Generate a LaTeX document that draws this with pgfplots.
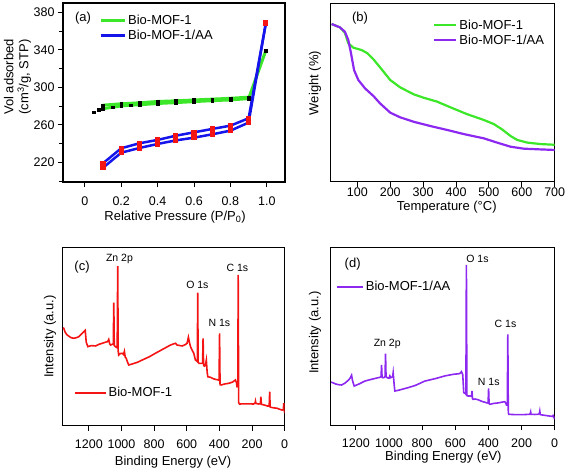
\documentclass[border=0pt]{standalone}
\usepackage{pgfplots}
\pgfplotsset{compat=1.18}
\usepackage{fontspec}
\setmainfont{Liberation Sans}
\setsansfont{Liberation Sans}
\definecolor{cgreen}{RGB}{60,230,40}
\definecolor{cblue}{RGB}{20,20,235}
\definecolor{cred}{RGB}{245,20,20}
\definecolor{cpurple}{RGB}{140,40,240}
\pgfplotsset{
  panel/.style={
    scale only axis, anchor=south west,
    axis line style={line width=1.5pt},
    every tick/.style={black, line width=1pt},
    tick align=outside, xtick pos=bottom, ytick pos=left,
    major tick length=5pt, minor tick length=4pt,
    /pgf/number format/assume math mode=true,
    /pgf/number format/1000 sep={},
    ticklabel style={font=\fontsize{12.5}{15}\selectfont},
    label style={font=\fontsize{13}{15}\selectfont},
    legend style={draw=none, fill=none, font=\fontsize{13}{15}\selectfont, inner sep=0pt, row sep=0pt},
    legend cell align=left,
  },
}
\tikzset{
  peak/.style={font=\fontsize{10.5}{12}\selectfont, inner sep=0pt},
  plab/.style={font=\fontsize{13}{15}\selectfont, inner sep=0pt},
}
\begin{document}
\begin{tikzpicture}
\useasboundingbox (0pt,0pt) rectangle (567pt,472pt);

% ---------------- (a) ----------------
\begin{axis}[panel, at={(63pt,290pt)}, width=222pt, height=179pt,
  xmin=-0.12, xmax=1.1, ymin=199, ymax=390,
  xtick={0,0.2,0.4,0.6,0.8,1.0}, xticklabels={0,0.2,0.4,0.6,0.8,1.0},
  ytick={220,260,300,340,380}, minor ytick={200,240,280,320,360},
  xticklabel style={yshift=-6pt},
  xlabel={Relative Pressure (P/P\textsubscript{0})},
  ylabel={Vol adsorbed\\(cm\textsuperscript{3}/g, STP)},
  ylabel style={align=center, at={(axis description cs:-0.205,0.587)}, anchor=center},
  xlabel style={at={(axis description cs:0.505,-0.196)}, anchor=center},
  legend style={at={(0.162,0.945)}, anchor=north west},
  legend image code/.code={\draw[#1] (0pt,0pt) -- (24pt,0pt);},
]
\addlegendimage{cgreen, line width=3pt}\addlegendentry{Bio-MOF-1}
\addlegendimage{cblue, line width=3pt}\addlegendentry{Bio-MOF-1/AA}
% green adsorption / desorption
\addplot[cgreen, line width=3pt, forget plot] coordinates {
 (0.1,277.3) (0.154,278.8) (0.2,280.2) (0.25,281) (0.3,281.4) (0.4,282.8) (0.5,283.7) (0.6,284.8) (0.7,285.8) (0.8,286.6) (0.9,288) (0.995,339.4)};
\addplot[cgreen, line width=3pt, forget plot] coordinates {
 (0.1,281) (0.2,282.4) (0.3,283.5) (0.4,284.9) (0.5,285.6) (0.6,286.5) (0.7,287.4) (0.8,288.3) (0.9,289.5)};
\addplot[only marks, mark=square*, mark size=1.4pt, black, forget plot] coordinates {
 (0.05,273.5) (0.077,276) (0.1,277.3) (0.154,278.8) (0.2,280.2) (0.25,281) (0.3,281.4) (0.4,282.8) (0.5,283.7) (0.6,284.8) (0.7,285.8) (0.8,286.6) (0.9,288) (0.995,339.4)
 (0.1,281) (0.2,282.4) (0.3,283.5) (0.4,284.9) (0.5,285.6) (0.6,286.5) (0.7,287.4) (0.8,288.3) (0.9,289.5)};
% blue
\addplot[cblue, line width=2.5pt, mark=square*, mark size=1.3pt, mark options={cred, fill=cred}, forget plot] coordinates {
 (0.1,214.2) (0.2,230.3) (0.3,235.3) (0.4,239.6) (0.5,243.4) (0.6,246.3) (0.7,249.9) (0.8,253.8) (0.9,262.4) (0.995,368.7)};
\addplot[cblue, line width=2.5pt, mark=square*, mark size=1.3pt, mark options={cred, fill=cred}, forget plot] coordinates {
 (0.1,219) (0.2,235) (0.3,240.3) (0.4,243.9) (0.5,248.4) (0.6,252) (0.7,255.6) (0.8,259.1) (0.9,267) (0.995,368.7)};
\node[plab] at (rel axis cs:0.09,0.916) {(a)};
\end{axis}

% ---------------- (b) ----------------
\begin{axis}[panel, at={(330.7pt,290.3pt)}, width=224pt, height=178.4pt,
  xmin=19, xmax=700, ymin=0, ymax=100,
  xtick={100,200,...,700}, ytick=\empty,
  xticklabel style={yshift=2pt},
  xlabel={Temperature (°C)}, ylabel={Weight (\%)},
  ylabel style={at={(axis description cs:-0.07,0.553)}, anchor=center},
  xlabel style={at={(axis description cs:0.518,-0.145)}, anchor=center},
  legend style={at={(0.457,0.92)}, anchor=north west},
  legend image code/.code={\draw[#1] (0pt,0pt) -- (22pt,0pt);},
]
\addplot[cgreen, line width=2.2pt] coordinates {
 (21.7,88.4) (47,86.5) (62,83.5) (72.5,77.6) (88,75.1) (113,73.8) (130.5,72) (149,68.6) (169,64.1) (200,57) (230,52.9) (271,49) (301,47.1) (342,44.9) (383,41.7) (433,37.9) (484.5,34.6) (515,32.3) (540,29.3) (566,25.6) (586,23.4) (617,21.9) (657,21.1) (700,20.7)};
\addlegendentry{Bio-MOF-1}
\addplot[cpurple, line width=2.2pt] coordinates {
 (21.7,88.4) (47,86.5) (62,84.1) (72.5,79.4) (80.7,72) (90,62.6) (103,57) (123.4,52.3) (149,48) (169,43.9) (200,38.7) (230,36.1) (271,33.6) (322,31.2) (373,29) (423.5,26.7) (484.5,24.3) (525,21.9) (566,19.6) (606.6,18.5) (657,18.1) (700,17.8)};
\addlegendentry{Bio-MOF-1/AA}
\node[plab] at (rel axis cs:0.131,0.918) {(b)};
\end{axis}

% ---------------- (c) ----------------
\begin{axis}[panel, at={(62.7pt,46.3pt)}, width=222pt, height=178pt,
  x dir=reverse, xmin=0, xmax=1360, ymin=0, ymax=100,
  xtick={0,200,...,1200}, ytick=\empty,
  xticklabel style={yshift=-6pt},
  xlabel={Binding Energy (eV)}, ylabel={Intensity (a.u.)},
  ylabel style={at={(axis description cs:-0.057,0.5)}, anchor=center},
  xlabel style={at={(axis description cs:0.497,-0.205)}, anchor=center},
  legend style={at={(0.05,0.184)}, anchor=west},
  legend image code/.code={\draw[#1] (0pt,0pt) -- (31pt,0pt);},
]
\addplot[cred, line width=1.6pt] coordinates {
(1358,55) (1353,54.7) (1345,52.5) (1333,51) (1310,49.5) (1292,49.1) (1275,49.5) (1261,50) (1245,51.5) (1231,52.8) (1222,53.6) (1216,47) (1206,44.4) (1185,45) (1159,44.8) (1135,45.8) (1108,46.6) (1095,47) (1085,47.2) (1078,48.5) (1072,46) (1067,45.3) (1055,45.8) (1050,46) (1047,69.1) (1044,45) (1037,44.4) (1030,44) (1026,45) (1023,89.7) (1020,42) (1017,39.7) (1008,40.5) (996,40.7) (988,40) (982,41.8) (977,38.5) (971,37.9) (962,35.5) (955,34.1) (930,34.8) (900,35.7) (873,36.9) (830,38.7) (792,40.7) (750,42.8) (700,45.3) (680,46) (669,46.3) (659,45.3) (640,45) (628,44.8) (610,45.5) (598,46.3) (590,49.7) (584,47) (577,44.4) (565,42) (557,40.7) (547,36.9) (540,36.5) (535,36) (533,74.7) (530,35.5) (524,35) (512,35) (503,35) (500,49.1) (497,34) (492,33.5) (486,34) (480,36.9) (475,30) (471,27.5) (460,27.3) (455,27.2) (440,26.5) (424,26) (410,25.8) (402,25.5) (399,51.9) (396,23) (389,22.9) (365,23.5) (343,23.8) (320,24.5) (302,25.7) (295,24) (292,21.9) (287,22) (285,84.7) (282,13) (277,12.2) (240,12.3) (190,12.2) (181,12.8) (179,13.8) (176,12.5) (160,12.2) (149,12.3) (146,16.3) (143,12) (120,11.5) (108,11.1) (95,11) (92,19.1) (89,10.5) (83,10.3) (65,10) (47,9.8) (30,9.2) (16,8.8) (8,9) (6,12.6) (3,9) (0,7)};
\addlegendentry{Bio-MOF-1}
\node[plab] at (rel axis cs:0.087,0.892) {(c)};
\node[peak] at (axis cs:1012,93.7) {Zn 2p};
\node[peak] at (axis cs:535,79) {O 1s};
\node[peak] at (axis cs:400,57.7) {N 1s};
\node[peak] at (axis cs:290,88.6) {C 1s};
\end{axis}

% ---------------- (d) ----------------
\begin{axis}[panel, at={(330.7pt,46.7pt)}, width=224pt, height=177.6pt,
  x dir=reverse, xmin=0, xmax=1352, ymin=0, ymax=100,
  xtick={0,200,...,1200}, ytick=\empty,
  xticklabel style={yshift=-5pt},
  xlabel={Binding Energy (eV)}, ylabel={Intensity (a.u.)},
  ylabel style={at={(axis description cs:-0.07,0.521)}, anchor=center},
  xlabel style={at={(axis description cs:0.503,-0.178)}, anchor=center},
  legend style={at={(0.024,0.78)}, anchor=west},
  legend image code/.code={\draw[#1] (0pt,0pt) -- (26pt,0pt);},
]
\addplot[cpurple, line width=1.6pt] coordinates {
(1350,24.3) (1340,24) (1320,23.2) (1300,22.8) (1286,22.7) (1265,23.8) (1247,25.3) (1235,26.5) (1226,28.2) (1220,25) (1210,22.1) (1180,23.3) (1146,24.9) (1110,25.8) (1066,26.8) (1055,27) (1048,27.5) (1045,34) (1042,27) (1036,26.8) (1028,27) (1024,27.5) (1021,40.3) (1018,27.5) (1011,26.8) (1000,26.5) (995,27.8) (990,26.8) (985,27) (978,27.5) (975,29.6) (970,24) (965,19.3) (940,19.8) (885,21.2) (840,22.5) (784,24.9) (720,26.3) (663,27.8) (613,28.7) (573,29.1) (563,30.2) (555,28.5) (549,18.4) (540,18) (536,17.5) (533,90.3) (530,17) (523,16.5) (510,16.5) (502,16.3) (499,19.3) (496,15) (493,14.6) (480,14.8) (463,14.4) (440,13.5) (412,12.7) (402,12.5) (399,20.8) (396,12.2) (392,11.8) (370,12.3) (342,12.6) (320,13) (302,13.3) (295,12.5) (291,11.4) (286,11.5) (283,51.2) (280,7) (277,6.2) (240,6) (190,6) (151,6.2) (147,6.8) (145,7.5) (143,6.2) (120,6.1) (101,6.2) (93,6.5) (90,8) (87,6) (60,5.6) (30,5.2) (14,5) (10,5.5) (5,4.5) (0,3.4)};
\addlegendentry{Bio-MOF-1/AA}
\node[plab] at (rel axis cs:0.098,0.907) {(d)};
\node[peak] at (axis cs:1011,45.6) {Zn 2p};
\node[peak] at (axis cs:466,93.8) {O 1s};
\node[peak] at (axis cs:398,24.5) {N 1s};
\node[peak] at (axis cs:297,56.9) {C 1s};
\end{axis}
\end{tikzpicture}
\end{document}
